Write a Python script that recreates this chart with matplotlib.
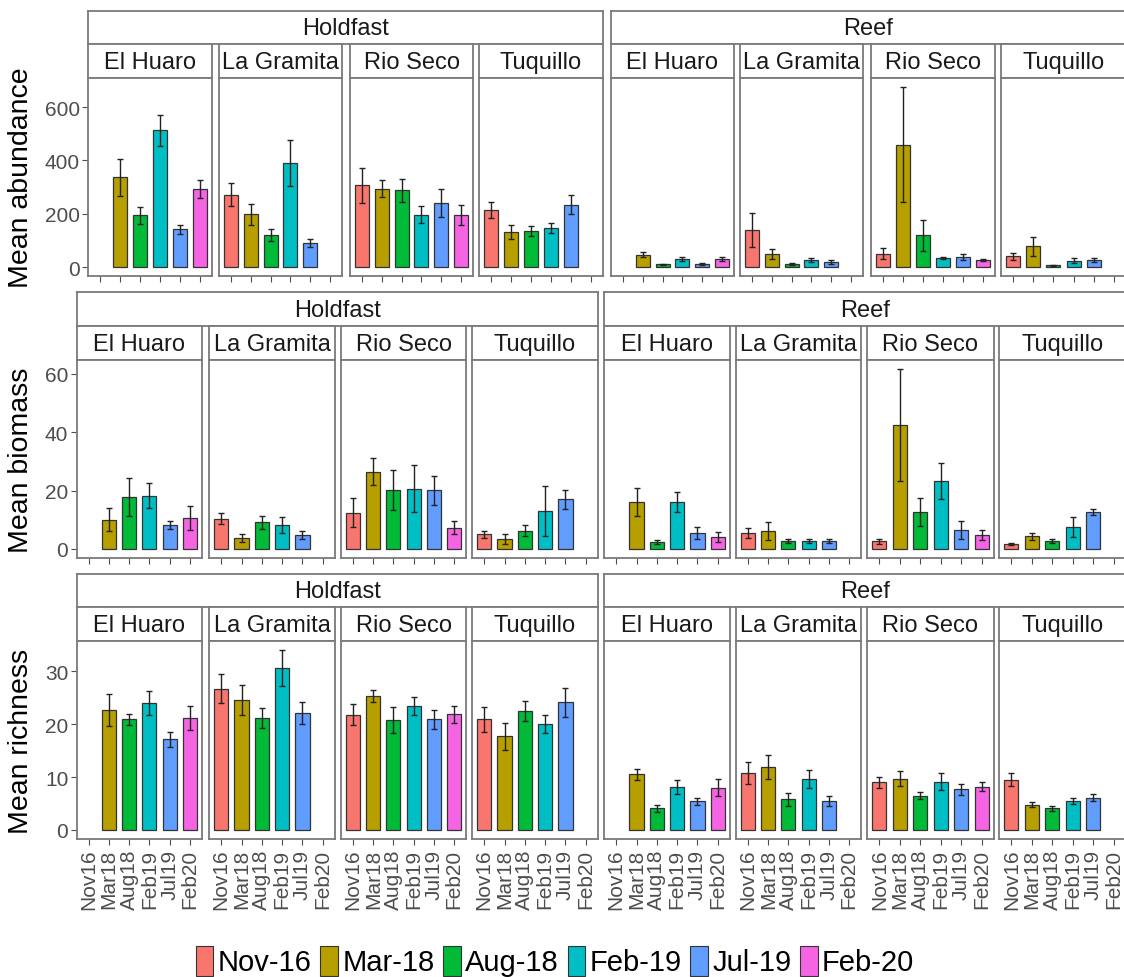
import numpy as np
import matplotlib
matplotlib.use("Agg")
import matplotlib.pyplot as plt
from matplotlib.patches import Patch

plt.rcParams['font.family'] = ['Liberation Sans', 'DejaVu Sans']

nan = np.nan
habitats = ["Holdfast", "Reef"]
sites = ["El Huaro", "La Gramita", "Rio Seco", "Tuquillo"]
periods = ["Nov16", "Mar18", "Aug18", "Feb19", "Jul19", "Feb20"]
legend_labels = ["Nov-16", "Mar-18", "Aug-18", "Feb-19", "Jul-19", "Feb-20"]
colors = ["#F8766D", "#B79F00", "#00BA38", "#00BFC4", "#619CFF", "#F564E3"]

# Mean abundance (rows = sites, columns = periods)
abund_holdfast = [[nan, 337, 194, 512, 141, 291],
                  [271, 197, 119, 389, 90, nan],
                  [306, 294, 287, 196, 240, 196],
                  [214, 131, 134, 146, 234, nan]]
abund_holdfast_err = [[nan, 69, 31, 57, 18, 34],
                      [44, 40, 22, 86, 14, nan],
                      [65, 31, 44, 31, 51, 38],
                      [30, 25, 19, 20, 35, nan]]
abund_reef = [[nan, 46, 10, 30, 12, 30],
              [140, 50, 12, 26, 19, nan],
              [50, 459, 119, 34, 37, 26],
              [40, 77, 6, 24, 26, nan]]
abund_reef_err = [[nan, 10, 3, 8, 4, 8],
                  [64, 19, 3, 8, 7, nan],
                  [21, 216, 59, 4, 12, 5],
                  [14, 36, 3, 8, 6, nan]]

# Mean biomass
biom_holdfast = [[nan, 10.1, 17.7, 18.3, 8.2, 10.6],
                 [10.3, 3.8, 9.1, 8.2, 4.8, nan],
                 [12.5, 26.5, 20.1, 20.7, 20.1, 7.3],
                 [5.1, 3.4, 6.3, 13.0, 17.0, nan]]
biom_holdfast_err = [[nan, 4.0, 6.5, 4.3, 1.5, 4.0],
                     [1.9, 1.3, 2.2, 2.8, 1.5, nan],
                     [5.0, 4.6, 6.9, 8.1, 4.9, 2.2],
                     [1.2, 1.7, 2.0, 8.5, 3.3, nan]]
biom_reef = [[nan, 16.1, 2.4, 16.1, 5.5, 4.1],
             [5.4, 6.3, 2.7, 2.7, 2.7, nan],
             [2.6, 42.5, 12.7, 23.4, 6.5, 4.8],
             [1.6, 4.3, 2.7, 7.5, 12.7, nan]]
biom_reef_err = [[nan, 4.7, 0.6, 3.4, 2.2, 1.6],
                 [1.8, 3.1, 0.8, 0.8, 0.8, nan],
                 [0.8, 19.2, 4.9, 6.2, 3.1, 1.7],
                 [0.3, 1.1, 0.8, 3.4, 0.9, nan]]

# Mean richness
rich_holdfast = [[nan, 22.6, 20.9, 24.0, 17.1, 21.2],
                 [26.7, 24.6, 21.2, 30.6, 22.1, nan],
                 [21.8, 25.3, 20.8, 23.5, 20.9, 21.9],
                 [20.9, 17.7, 22.4, 20.1, 24.1, nan]]
rich_holdfast_err = [[nan, 3.0, 1.1, 2.2, 1.4, 2.3],
                     [2.7, 2.8, 1.9, 3.4, 2.0, nan],
                     [2.0, 1.1, 2.5, 1.7, 1.8, 1.6],
                     [2.4, 2.6, 1.9, 1.7, 2.8, nan]]
rich_reef = [[nan, 10.5, 4.1, 8.1, 5.4, 8.0],
             [10.7, 11.9, 5.8, 9.7, 5.5, nan],
             [9.0, 9.7, 6.5, 9.1, 7.7, 8.2],
             [9.5, 4.8, 4.1, 5.5, 6.1, nan]]
rich_reef_err = [[nan, 1.1, 0.7, 1.3, 0.6, 1.6],
                 [2.1, 2.3, 1.2, 1.7, 0.9, nan],
                 [1.0, 1.4, 0.7, 1.6, 1.0, 0.9],
                 [1.2, 0.5, 0.5, 0.6, 0.7, nan]]

row_titles = ["Mean abundance", "Mean biomass", "Mean richness"]
row_yticks = [[0, 200, 400, 600], [0, 20, 40, 60], [0, 10, 20, 30]]
row_data = [(abund_holdfast, abund_holdfast_err, abund_reef, abund_reef_err),
            (biom_holdfast, biom_holdfast_err, biom_reef, biom_reef_err),
            (rich_holdfast, rich_holdfast_err, rich_reef, rich_reef_err)]

W, H = 1124, 978
fig = plt.figure(figsize=(W / 100, H / 100), dpi=100)


def rect(x0, y0, x1, y1):
    return [x0 / W, 1 - y1 / H, (x1 - x0) / W, (y1 - y0) / H]


# layout (pixels)
xs_row1 = [(88, 212), (219, 342), (350, 473), (479, 603),
           (611, 734), (740, 863), (871, 995), (1001, 1126)]
xs_row23 = [(76.6, 202), (209, 335), (341, 466), (472, 598),
            (604, 730), (736, 861), (867, 994), (999, 1126)]
row_layout = [  # outer strip top, inner strip top, panel top, panel bottom, xs
    (12, 45, 79, 277, xs_row1),
    (293, 327, 361, 559, xs_row23),
    (575, 608, 642, 840, xs_row23),
]

border_col = "#7A7A7A"
tick_col = "#4D4D4D"
x = np.arange(1, len(periods) + 1)

for r, (otop, itop, ptop, pbot, xs) in enumerate(row_layout):
    hold, hold_e, reef, reef_e = row_data[r]
    # y range with ggplot 5% expansion
    allmax = np.nanmax(np.concatenate([np.array(hold) + np.array(hold_e),
                                       np.array(reef) + np.array(reef_e)]))
    ylo, yhi = -0.05 * allmax, 1.05 * allmax
    for h in range(2):
        vals = hold if h == 0 else reef
        errs = hold_e if h == 0 else reef_e
        # outer strip
        gx0 = xs[4 * h][0]
        gx1 = xs[4 * h + 3][1]
        sax = fig.add_axes(rect(gx0, otop, gx1, itop))
        sax.set_xticks([]); sax.set_yticks([])
        for sp in sax.spines.values():
            sp.set_color(border_col); sp.set_linewidth(1.3)
        sax.text(0.5, 0.48, habitats[h], ha='center', va='center',
                 fontsize=17, transform=sax.transAxes, color='#1A1A1A')
        for s in range(4):
            px0, px1 = xs[4 * h + s]
            # inner strip
            iax = fig.add_axes(rect(px0, itop, px1, ptop))
            iax.set_xticks([]); iax.set_yticks([])
            for sp in iax.spines.values():
                sp.set_color(border_col); sp.set_linewidth(1.3)
            iax.text(0.5, 0.48, sites[s], ha='center', va='center',
                     fontsize=17, transform=iax.transAxes, color='#1A1A1A')
            # panel
            ax = fig.add_axes(rect(px0, ptop, px1, pbot))
            v = np.array(vals[s], dtype=float)
            e = np.array(errs[s], dtype=float)
            ok = ~np.isnan(v)
            ax.bar(x[ok], v[ok], width=0.7, color=np.array(colors)[ok],
                   edgecolor='#333333', linewidth=0.9, zorder=2)
            ax.errorbar(x[ok], v[ok], yerr=e[ok], fmt='none', ecolor='#222222',
                        elinewidth=1.0, capsize=2.2, capthick=1.0, zorder=3)
            ax.set_xlim(0.4, 6.6)
            ax.set_ylim(ylo, yhi)
            ax.set_xticks(x)
            ax.tick_params(axis='x', length=4, color=tick_col, width=0.8)
            if r == 2:
                ax.set_xticklabels(periods, rotation=90, fontsize=15,
                                   color=tick_col, ha='center', va='top')
                ax.tick_params(axis='x', pad=3)
            else:
                ax.set_xticklabels([])
            if h == 0 and s == 0:
                ax.set_yticks(row_yticks[r])
                ax.set_yticklabels([str(t) for t in row_yticks[r]],
                                   fontsize=15, color=tick_col)
                ax.tick_params(axis='y', length=4, color=tick_col, width=0.8, pad=2)
            else:
                ax.set_yticks([])
            for sp in ax.spines.values():
                sp.set_color(border_col); sp.set_linewidth(1.3)
    # row title
    fig.text(21 / W, 1 - ((ptop + pbot) / 2) / H, row_titles[r], rotation=90,
             ha='center', va='center', fontsize=20.5, color='black')

handles = [Patch(facecolor=c, edgecolor='#333333', linewidth=0.8) for c in colors]
fig.legend(handles, legend_labels, loc='center', bbox_to_anchor=(555 / W, 1 - 962 / H),
           ncol=6, frameon=False, fontsize=21, handlelength=0.6, handleheight=1.2,
           handletextpad=0.15, columnspacing=0.3, borderpad=0)

fig.savefig("out.png", dpi=100)
